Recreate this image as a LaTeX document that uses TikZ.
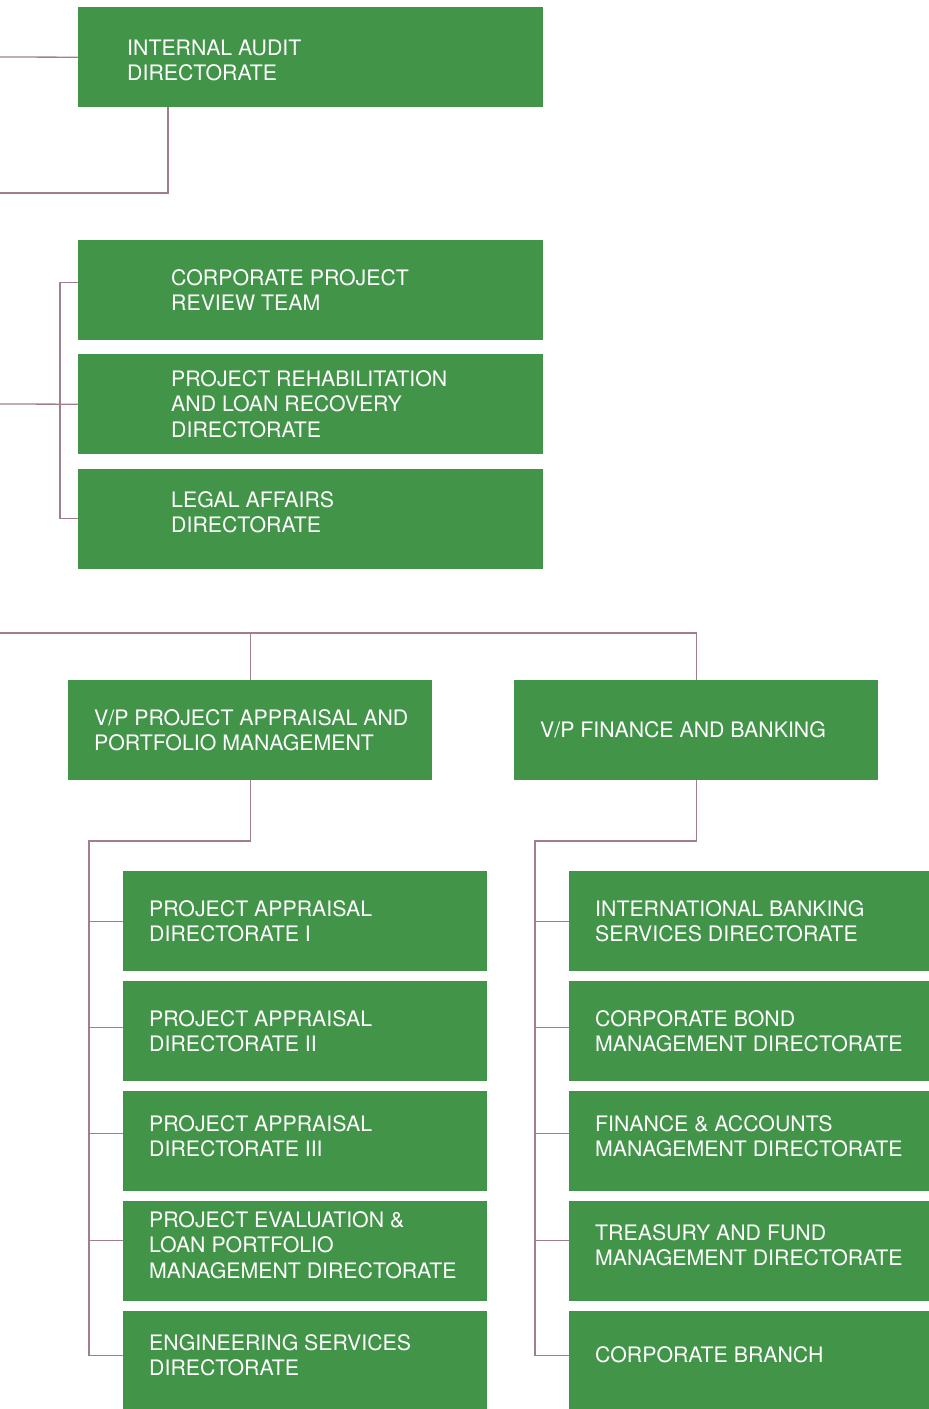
\documentclass[tikz,border=0pt]{standalone}
\usepackage{fontspec}
\setmainfont{TeX Gyre Heros}
\usetikzlibrary{positioning}
\definecolor{unitgreen}{RGB}{66,148,73}
\definecolor{linkmauve}{RGB}{160,126,142}
\tikzstyle{block} = [rectangle, fill=unitgreen, anchor=north west, minimum height=100pt, inner sep=0pt]
\tikzstyle{blocktext} = [text=white, align=left, inner sep=0pt, font=\fontsize{21.3}{25.5}\selectfont]
\tikzstyle{link} = [draw=linkmauve, line width=1.3pt]

\begin{document}
\begin{tikzpicture}[x=1pt, y=-1pt]
    \useasboundingbox (0,0) rectangle (929,1409);

    % directorates at the top
    \node[block, minimum width=465pt] (audit) at (78,7) {};
    \node[blocktext, right=49pt of audit.west, yshift=-3pt] (audittext) {INTERNAL AUDIT\\DIRECTORATE};
    \node[block, minimum width=465pt] (review) at (78,240) {};
    \node[blocktext, right=93pt of review.west] (reviewtext) {CORPORATE PROJECT\\REVIEW TEAM};
    \node[block, minimum width=465pt] (rehab) at (78,354) {};
    \node[blocktext, right=93pt of rehab.west] (rehabtext) {PROJECT REHABILITATION\\AND LOAN RECOVERY\\DIRECTORATE};
    \node[block, minimum width=465pt] (legal) at (78,469) {};
    \node[blocktext, right=93pt of legal.west, yshift=7pt] (legaltext) {LEGAL AFFAIRS\\DIRECTORATE};

    % vice presidents
    \node[block, minimum width=364pt] (vppa) at (68,680) {};
    \node[blocktext, right=26pt of vppa.west] (vppatext) {V/P PROJECT APPRAISAL AND\\PORTFOLIO MANAGEMENT};
    \node[block, minimum width=364pt] (vpfb) at (514,680) {};
    \node[blocktext, right=26pt of vpfb.west] (vpfbtext) {V/P FINANCE AND BANKING};

    % project appraisal side
    \node[block, minimum width=364pt] (appraisal1) at (123,871) {};
    \node[blocktext, right=26pt of appraisal1.west] (appraisal1text) {PROJECT APPRAISAL\\DIRECTORATE I};
    \node[block, minimum width=364pt] (appraisal2) at (123,981) {};
    \node[blocktext, right=26pt of appraisal2.west] (appraisal2text) {PROJECT APPRAISAL\\DIRECTORATE II};
    \node[block, minimum width=364pt] (appraisal3) at (123,1091) {};
    \node[blocktext, right=26pt of appraisal3.west, yshift=5pt] (appraisal3text) {PROJECT APPRAISAL\\DIRECTORATE III};
    \node[block, minimum width=364pt] (evaluation) at (123,1201) {};
    \node[blocktext, right=26pt of evaluation.west, yshift=6pt] (evaluationtext) {PROJECT EVALUATION \&\\LOAN PORTFOLIO\\MANAGEMENT DIRECTORATE};
    \node[block, minimum width=364pt, minimum height=98pt] (engineering) at (123,1311) {};
    \node[blocktext, right=26pt of engineering.west, yshift=5pt] (engineeringtext) {ENGINEERING SERVICES\\DIRECTORATE};

    % finance and banking side
    \node[block, minimum width=360pt] (intbanking) at (569,871) {};
    \node[blocktext, right=26pt of intbanking.west] (intbankingtext) {INTERNATIONAL BANKING\\SERVICES DIRECTORATE};
    \node[block, minimum width=360pt] (bond) at (569,981) {};
    \node[blocktext, right=26pt of bond.west] (bondtext) {CORPORATE BOND\\MANAGEMENT DIRECTORATE};
    \node[block, minimum width=360pt] (accounts) at (569,1091) {};
    \node[blocktext, right=26pt of accounts.west, yshift=5pt] (accountstext) {FINANCE \& ACCOUNTS\\MANAGEMENT DIRECTORATE};
    \node[block, minimum width=360pt] (treasury) at (569,1201) {};
    \node[blocktext, right=26pt of treasury.west, yshift=6pt] (treasurytext) {TREASURY AND FUND\\MANAGEMENT DIRECTORATE};
    \node[block, minimum width=360pt, minimum height=98pt] (branch) at (569,1311) {};
    \node[blocktext, right=26pt of branch.west, yshift=5pt] (branchtext) {CORPORATE BRANCH};

    % free ends of the connectors
    \coordinate (auditin) at (0,57);
    \coordinate (auditout) at (0,193);
    \coordinate (rehabin) at (0,404);
    \coordinate (vpin) at (0,633);
    \coordinate (lbus) at (89,841);
    \coordinate (rbus) at (535,841);

    \draw[link] (auditin) -- (audit.west);
    \draw[link] ([xshift=90pt]audit.south west) |- (auditout);

    \draw[link] ([yshift=8pt]review.west) -- ++(-18,0) |- ([yshift=1pt]legal.west);
    \draw[link] (rehabin) -- (rehab.west);

    \draw[link] (vpin) -| (vpfb.north);
    \draw[link] (vppa.north) -- (vppa.north |- vpin);

    \draw[link] (vppa.south) |- (lbus) |- ([yshift=5pt]engineering.west);
    \draw[link] (appraisal1.west) -- ++(-34,0);
    \draw[link] ([yshift=4pt]appraisal2.west) -- ++(-34,0);
    \draw[link] ([yshift=8pt]appraisal3.west) -- ++(-34,0);
    \draw[link] ([yshift=11pt]evaluation.west) -- ++(-34,0);

    \draw[link] (vpfb.south) |- (rbus) |- ([yshift=5pt]branch.west);
    \draw[link] (intbanking.west) -- ++(-34,0);
    \draw[link] ([yshift=4pt]bond.west) -- ++(-34,0);
    \draw[link] ([yshift=8pt]accounts.west) -- ++(-34,0);
    \draw[link] ([yshift=11pt]treasury.west) -- ++(-34,0);
\end{tikzpicture}
\end{document}
